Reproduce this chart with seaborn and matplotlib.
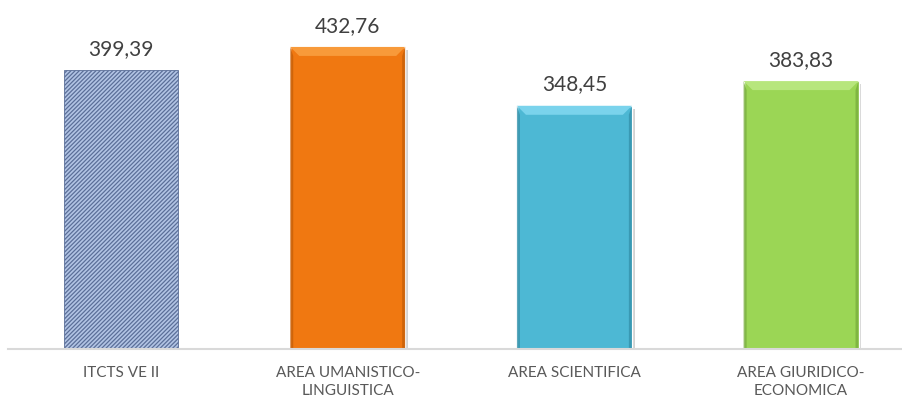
import matplotlib
matplotlib.use('Agg')
import matplotlib.pyplot as plt
import matplotlib.patheffects as pe
from matplotlib.patches import Polygon
import seaborn as sns

# dati del grafico
categories = ['ITCTS VE II', 'AREA UMANISTICO-\nLINGUISTICA', 'AREA SCIENTIFICA', 'AREA GIURIDICO-\nECONOMICA']
values = [399.39, 432.76, 348.45, 383.83]
bar_colors = ['#B2C4E4', '#F07811', '#4DB8D4', '#9BD655']
top_colors = ['#B2C4E4', '#F89A3A', '#7AD3EC', '#B7E67D']
side_colors = ['#5A6E96', '#C75F08', '#3592AB', '#78AE3D']

sns.set_style('white')
plt.rcParams['font.family'] = ['Lato', 'DejaVu Sans']
plt.rcParams['hatch.linewidth'] = 0.9

fig = plt.figure(figsize=(9.02, 4.05), dpi=100)
ax = fig.add_axes([7.7 / 902, 56 / 405, 906.7 / 902, 349 / 405])

sns.barplot(x=categories, y=values, hue=categories, palette=bar_colors,
            saturation=1, width=0.507, legend=False, ax=ax)
ax.set_ylim(0, 500)

fig.canvas.draw()
inv = ax.transData.inverted()
# dimensioni smusso: pixel -> unità dati
(x0d, y0d), (x1d, y1d) = inv.transform([(0, 0), (9, 9)])
bx, by = x1d - x0d, y1d - y0d
sx = inv.transform([(3, 0)])[0][0] - x0d

for i, bar in enumerate(ax.patches):
    x0 = bar.get_x()
    x1 = x0 + bar.get_width()
    h = bar.get_height()
    if i == 0:
        # barra tratteggiata
        bar.set_edgecolor('#5B6F98')
        bar.set_linewidth(0.6)
        bar.set_hatch('////////')
    else:
        bar.set_path_effects([pe.SimplePatchShadow(offset=(2, -2), shadow_rgbFace='#808080', alpha=0.35),
                              pe.Normal()])
        ax.add_patch(Polygon([(x0, 0), (x0 + sx, 0), (x0 + sx, h - by), (x0, h)],
                             closed=True, facecolor=side_colors[i], edgecolor='none', alpha=0.8))
        ax.add_patch(Polygon([(x1, 0), (x1 - sx, 0), (x1 - sx, h - by), (x1, h)],
                             closed=True, facecolor=side_colors[i], edgecolor='none', alpha=0.8))
        ax.add_patch(Polygon([(x0, h), (x1, h), (x1 - bx, h - by), (x0 + bx, h - by)],
                             closed=True, facecolor=top_colors[i], edgecolor='none'))
    ax.annotate(f'{h:.2f}'.replace('.', ','), (x0 + bar.get_width() / 2, h),
                xytext=(0, 11), textcoords='offset points', ha='center', va='baseline',
                fontsize=15, color='#404040')

sns.despine(ax=ax, left=True, top=True, right=True)
ax.spines['bottom'].set_color('#D9D9D9')
ax.spines['bottom'].set_linewidth(1.5)
ax.set_yticks([])
ax.set_xlabel('')
ax.tick_params(axis='x', length=0, pad=12, labelsize=11, labelcolor='#595959')
for lbl in ax.get_xticklabels():
    lbl.set_linespacing(1.35)

fig.savefig('out.png', dpi=100)
